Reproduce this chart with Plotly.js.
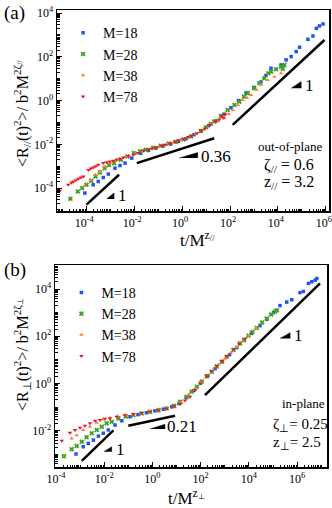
<!DOCTYPE html>
<html>
<head>
<meta charset="utf-8">
<script src="https://cdn.plot.ly/plotly-3.0.1.min.js"></script>
<style>
    html, body { margin: 0; padding: 0; background: #fff; }
    #chart { width: 332px; height: 508px; }
</style>
</head>
<body>
<div id="chart"></div>
<script>

// all values are log10 of t/M^z and of <R^2>/b^2M^2zeta

const seriesNames = ["M=18", "M=28", "M=38", "M=78"];
const tickExp = [-4, -2, 0, 2, 4, 6];

// panel (a): out-of-plane
const a18x = [-4.06,-3.71,-3.50,-3.29,-3.08,-2.80,-2.59,-2.38,-2.10,-1.73,-1.40,-1.10,-0.80,-0.47,-0.15,0.16,0.50,0.78,1.10,1.41,1.75,2.04,2.35,2.67,3.00,3.29,3.50,3.71,4.13,4.34,4.55,4.76,4.90,5.25,5.46,5.60,5.73,5.88];
const a18y = [-4.23,-3.85,-3.70,-3.52,-3.36,-3.09,-2.97,-2.86,-2.63,-2.41,-2.28,-2.18,-2.08,-1.98,-1.86,-1.75,-1.56,-1.39,-1.15,-0.93,-0.62,-0.33,0.00,0.35,0.60,0.85,1.15,1.48,1.63,1.86,2.01,2.24,2.44,2.80,2.95,3.30,3.41,3.50];
const a28x = [-4.66,-4.35,-4.17,-3.99,-3.79,-3.61,-3.43,-3.23,-3.05,-2.84,-2.56,-2.28,-2.01,-1.75,-1.52,-1.20,-0.89,-0.55,-0.26,0.05,0.37,0.78,1.00,1.20,1.34,1.62,1.90,2.18,2.39,2.58,2.74,3.01,3.22,3.43,3.60,3.71,3.92,4.13,4.20,4.27];
const a28y = [-4.49,-4.16,-4.00,-3.85,-3.67,-3.47,-3.29,-3.09,-2.94,-2.86,-2.71,-2.56,-2.40,-2.32,-2.25,-2.16,-2.07,-1.97,-1.89,-1.78,-1.64,-1.39,-1.22,-1.07,-0.96,-0.70,-0.43,-0.20,-0.05,0.18,0.34,0.56,0.79,1.02,1.25,1.32,1.43,1.55,1.45,1.63];
const a38x = [-4.07,-3.82,-3.61,-3.43,-3.22,-3.01,-2.73,-2.35,-1.94,-1.62,-1.31,-1.00,-0.68,-0.35,-0.05,0.25,0.57,0.90,1.20,1.50,1.76,1.95,2.12,2.33,2.53,2.70,2.88,3.10,3.29,3.57,3.85,4.13];
const a38y = [-3.90,-3.62,-3.39,-3.24,-3.02,-2.86,-2.71,-2.55,-2.39,-2.30,-2.21,-2.12,-2.02,-1.92,-1.80,-1.68,-1.52,-1.33,-1.11,-0.95,-0.81,-0.62,-0.43,-0.20,0.03,0.13,0.26,0.50,0.72,0.94,1.09,1.25];
const a78x = [-5.10,-4.75,-4.62,-4.54,-4.43,-4.33,-4.22,-4.12,-3.91,-3.81,-3.71,-3.60,-3.50,-3.29,-3.15,-3.01,-2.87,-2.73,-2.59,-2.45,-2.24,-2.03,-1.85,-1.61,-1.40,-1.25,-1.06,-0.85,-0.70,-0.50,-0.30,-0.15,0.06,0.25,0.40,0.62,0.80,0.95,1.17,1.40,1.55,1.65,1.73,1.80];
const a78y = [-4.12,-3.85,-3.76,-3.70,-3.64,-3.58,-3.52,-3.47,-3.17,-3.11,-3.06,-3.00,-2.94,-2.86,-2.82,-2.79,-2.75,-2.71,-2.66,-2.60,-2.54,-2.48,-2.40,-2.30,-2.23,-2.19,-2.15,-2.07,-2.02,-1.95,-1.88,-1.82,-1.75,-1.67,-1.60,-1.49,-1.38,-1.28,-1.11,-0.96,-0.86,-0.72,-0.78,-0.62];

// panel (b): in-plane
const b18x = [-3.17,-2.87,-2.66,-2.45,-2.24,-2.04,-1.83,-1.55,-1.27,-0.93,-0.60,-0.25,0.10,0.45,0.80,1.10,1.40,1.70,2.00,2.30,2.60,2.90,3.20,3.50,3.80,4.10,4.46,4.74,5.02,5.29,5.57,5.78,6.12,6.26,6.47,6.61,6.75,6.82];
const b18y = [-2.99,-2.68,-2.54,-2.40,-2.23,-2.11,-1.97,-1.76,-1.58,-1.41,-1.32,-1.24,-1.16,-1.09,-0.99,-0.85,-0.60,-0.30,0.02,0.33,0.63,0.93,1.22,1.52,1.82,2.12,2.45,2.72,3.00,3.30,3.45,3.55,3.85,3.90,4.24,4.31,4.38,4.45];
const b28x = [-3.67,-3.35,-3.14,-2.93,-2.73,-2.52,-2.31,-2.10,-1.90,-1.69,-1.41,-1.10,-0.79,-0.45,-0.10,0.25,0.59,0.90,1.15,1.42,1.62,1.84,2.05,2.25,2.46,2.67,2.88,3.08,3.36,3.63,3.80,3.98,4.15,4.33,4.55,4.74,4.92,5.09,5.16];
const b28y = [-3.08,-2.79,-2.65,-2.47,-2.28,-2.11,-1.97,-1.83,-1.69,-1.62,-1.48,-1.40,-1.34,-1.27,-1.20,-1.13,-1.06,-0.95,-0.78,-0.56,-0.35,-0.14,0.08,0.30,0.50,0.72,0.92,1.13,1.42,1.70,1.85,2.02,2.18,2.35,2.58,2.75,2.92,3.05,3.10];
const b38x = [-3.35,-3.14,-2.87,-2.59,-2.31,-2.04,-1.76,-1.45,-1.10,-0.79,-0.45,-0.10,0.25,0.59,0.90,1.20,1.50,1.75,2.00,2.25,2.50,2.75,3.00,3.25,3.50,3.75,4.00,4.30];
const b38y = [-2.33,-2.19,-1.97,-1.83,-1.66,-1.52,-1.45,-1.39,-1.34,-1.31,-1.26,-1.19,-1.12,-1.05,-0.96,-0.80,-0.48,-0.25,0.03,0.28,0.55,0.80,1.05,1.30,1.55,1.80,2.03,2.35];
const b78x = [-3.76,-3.42,-3.21,-3.00,-2.80,-2.59,-2.38,-2.17,-1.97,-1.76,-1.48,-1.15,-0.79,-0.45,-0.10,0.25,0.59,0.90,1.15,1.35,1.56,1.78,1.98,2.25,2.45,2.67,2.88,3.08,3.36,3.60,3.84];
const b78y = [-2.43,-2.09,-1.97,-1.88,-1.79,-1.69,-1.58,-1.55,-1.50,-1.48,-1.41,-1.35,-1.30,-1.25,-1.20,-1.13,-1.06,-0.97,-0.87,-0.72,-0.56,-0.28,0.00,0.30,0.52,0.75,0.95,1.15,1.45,1.68,1.90];

// guide lines (power-law slopes) and their triangles
const aGuideX = [[-3.99,-2.63], [-1.89,1.34], [2.11,5.94]];
const aGuideY = [[-4.76,-3.39], [-2.86,-1.72], [-1.11,2.77]];
const aTriX = [[-3.15,-2.84,-2.84], [-0.12,0.65,0.65], [4.55,4.97,4.97]];
const aTriY = [[-4.50,-4.23,-4.50], [-2.63,-2.38,-2.63], [0.56,0.87,0.56]];
const aSlopes = ["1", "0.36", "1"];
const aSlopePos = [[-2.77,-4.35], [0.72,-2.55], [5.05,0.69]];

const bGuideX = [[-2.93,-1.62], [-1.00,0.94], [2.18,6.95]];
const bGuideY = [[-3.28,-1.99], [-1.79,-1.37], [-0.49,4.24]];
const bTriX = [[-2.01,-1.69,-1.69], [-0.10,0.52,0.52], [5.29,5.71,5.71]];
const bTriY = [[-2.89,-2.68,-2.89], [-1.93,-1.73,-1.93], [1.91,2.15,1.91]];
const bSlopes = ["1", "0.21", "1"];
const bSlopePos = [[-1.59,-2.80], [0.54,-1.81], [5.79,2.03]];

const colors = ["#2352f2", "#3f9f1f", "#ff7f3a", "#ef1620"];
const symbols = ["square", "x", "triangle-up", "triangle-down"];
const sizes = [3.5, 4.5, 4, 4];

const serif = "Liberation Serif";
const pow10 = (arr) => arr.map(function(v) { return Math.pow(10, v); });

function scatterTraces(xs, ys, xa, ya, legend) {
    return xs.map(function(x, i) {
        return {
            name: seriesNames[i], x: pow10(x), y: pow10(ys[i]),
            xaxis: xa, yaxis: ya, legend: legend,
            type: "scatter", mode: "markers",
            marker: {symbol: symbols[i], color: colors[i], size: sizes[i], line: {width: 0}},
        };
    });
}

function guideTraces(gx, gy, tx, ty, xa, ya) {
    let traces = [];
    gx.forEach(function(x, i) {
        traces.push({
            x: pow10(x), y: pow10(gy[i]), xaxis: xa, yaxis: ya,
            mode: "lines", line: {color: "#000", width: 2.5},
            showlegend: false, hoverinfo: "skip",
        });
        traces.push({
            x: pow10(tx[i]), y: pow10(ty[i]), xaxis: xa, yaxis: ya,
            mode: "lines", fill: "toself", fillcolor: "#000", line: {color: "#000", width: 0.5},
            showlegend: false, hoverinfo: "skip",
        });
    });
    return traces;
}

function slopeLabels(labels, pos, xa, ya) {
    return labels.map(function(t, i) {
        return {
            text: t, xref: xa, yref: ya, x: pos[i][0], y: pos[i][1],
            xanchor: "left", yanchor: "middle", showarrow: false,
            font: {family: serif, size: 17, color: "#000"},
        };
    });
}

function logAxis(range, domain, anchor, shift) {
    return {
        type: "log", range: range, domain: domain, anchor: anchor,
        tickmode: "array",
        tickvals: pow10(tickExp),
        ticktext: tickExp.map(function(e) { return "10<sup>" + e + "</sup>"; }),
        ticks: "inside", ticklen: 5, tickwidth: 1, tickcolor: "#000",
        minor: {ticks: "inside", ticklen: 2.5, tickcolor: "#000", dtick: "D1"},
        showline: true, linecolor: "#000", linewidth: 1.5, mirror: true,
        showgrid: false, zeroline: false, automargin: false,
        ticklabeloverflow: "allow", ticklabelshift: shift || 0,
        tickfont: {family: serif, size: 12, color: "#000"},
    };
}

function text(t, x, y, size, xanchor, angle) {
    return {
        text: t, xref: "paper", yref: "paper", x: x, y: y,
        xanchor: xanchor || "center", yanchor: "middle", showarrow: false,
        textangle: angle || 0, font: {family: serif, size: size, color: "#000"},
    };
}

let data = [].concat(
    scatterTraces([a18x, a28x, a38x, a78x], [a18y, a28y, a38y, a78y], "x", "y", "legend"),
    scatterTraces([b18x, b28x, b38x, b78x], [b18y, b28y, b38y, b78y], "x2", "y2", "legend2"),
    guideTraces(aGuideX, aGuideY, aTriX, aTriY, "x", "y"),
    guideTraces(bGuideX, bGuideY, bTriX, bTriY, "x2", "y2")
);

let legendStyle = {
    xanchor: "left", yanchor: "top", bgcolor: "rgba(0,0,0,0)",
    font: {family: serif, size: 14, color: "#000"},
    tracegroupgap: 0, itemsizing: "trace",
};

let layout = {
    width: 332, height: 508,
    margin: {l: 0, r: 0, t: 0, b: 0},
    paper_bgcolor: "#fff", plot_bgcolor: "#fff",
    showlegend: true,
    legend: Object.assign({x: 0.19, y: 0.966}, legendStyle),
    legend2: Object.assign({x: 0.185, y: 0.455}, legendStyle),
    xaxis: logAxis([-5.22, 6.13], [0.1717, 0.991], "y", -2),
    yaxis: logAxis([-5.05, 4.14], [0.5846, 0.9803], "x"),
    xaxis2: logAxis([-4.04, 7.24], [0.1657, 0.985], "y2"),
    yaxis2: logAxis([-3.54, 5.02], [0.0807, 0.4783], "x2"),
    annotations: [].concat(
        slopeLabels(aSlopes, aSlopePos, "x", "y"),
        slopeLabels(bSlopes, bSlopePos, "x2", "y2"),
        [
            text("(a)", 0.045, 0.974, 19),
            text("(b)", 0.045, 0.4685, 19),
            text("t/M<sup>z<sub>//</sub></sup>", 0.596, 0.530, 17),
            text("t/M<sup>z<sub>⊥</sub></sup>", 0.562, 0.022, 17),
            text("&lt;R<sub>//</sub>(t)<sup>2</sup>&gt;/ b<sup>2</sup>M<sup>2ζ<sub>//</sub></sup>", 0.0663, 0.7756, 16, "center", -90),
            text("&lt;R<sub>⊥</sub>(t)<sup>2</sup>&gt;/ b<sup>2</sup>M<sup>2ζ<sub>⊥</sub></sup>", 0.0663, 0.3012, 16, "center", -90),
            text("out-of-plane", 0.8735, 0.7112, 13),
            text("ζ<sub>//</sub> = 0.6", 0.789, 0.675, 16, "left"),
            text("z<sub>//</sub> = 3.2", 0.789, 0.6398, 16, "left"),
            text("in-plane", 0.9127, 0.2061, 13),
            text("ζ<sub>⊥</sub>= 0.25", 0.815, 0.1634, 15, "left"),
            text("z<sub>⊥</sub>= 2.5", 0.815, 0.1274, 15, "left"),
        ]
    ),
};

Plotly.newPlot("chart", data, layout, {displayModeBar: false, staticPlot: true});

</script>
</body>
</html>
